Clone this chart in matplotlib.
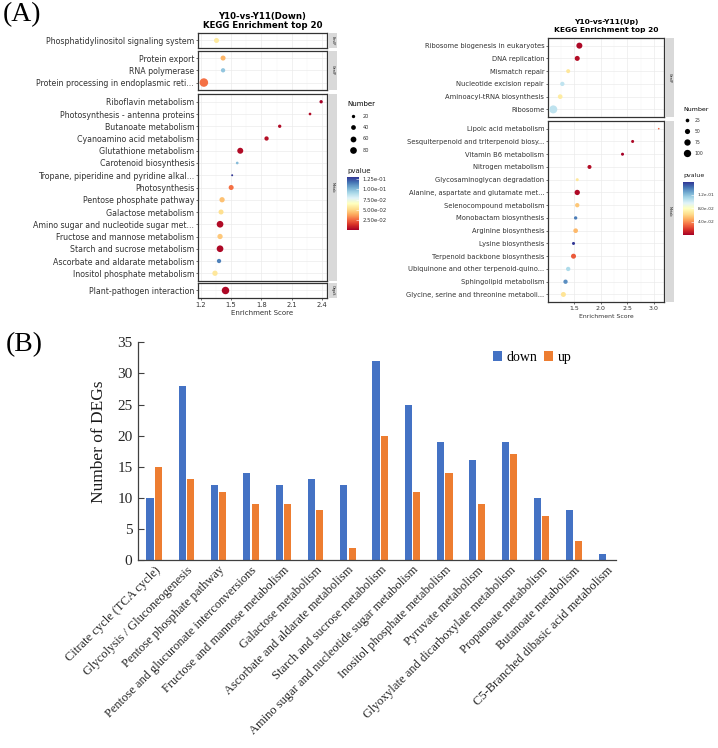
import matplotlib
matplotlib.use('Agg')
import matplotlib.pyplot as plt
from matplotlib.lines import Line2D
from matplotlib.colors import Normalize
from matplotlib.cm import ScalarMappable
from matplotlib.ticker import MultipleLocator
import numpy as np

# ---------------- data: KEGG top 20 (Down) ----------------
down_terms = ["Phosphatidylinositol signaling system",
              "Protein export", "RNA polymerase", "Protein processing in endoplasmic reti...",
              "Riboflavin metabolism", "Photosynthesis - antenna proteins", "Butanoate metabolism",
              "Cyanoamino acid metabolism", "Glutathione metabolism", "Carotenoid biosynthesis",
              "Tropane, piperidine and pyridine alkal...", "Photosynthesis", "Pentose phosphate pathway",
              "Galactose metabolism", "Amino sugar and nucleotide sugar met...",
              "Fructose and mannose metabolism", "Starch and sucrose metabolism",
              "Ascorbate and aldarate metabolism", "Inositol phosphate metabolism",
              "Plant-pathogen interaction"]
down_class = ["EnvIP"] + ["GenIP"] * 3 + ["Metab"] * 15 + ["OrgaS"]
down_score = [1.35, 1.42, 1.42, 1.23, 2.39, 2.28, 1.98, 1.85, 1.59, 1.56, 1.51, 1.50,
              1.41, 1.40, 1.39, 1.39, 1.39, 1.38, 1.34, 1.44]
down_number = [45, 45, 33, 130, 20, 13, 20, 33, 64, 13, 7, 45, 50, 45, 80, 50, 80, 33, 50, 100]
down_pvalue = [0.057, 0.042, 0.097, 0.028, 0.0015, 0.005, 0.005, 0.006, 0.005, 0.100, 0.130,
               0.028, 0.045, 0.053, 0.005, 0.047, 0.004, 0.114, 0.056, 0.004]

# ---------------- data: KEGG top 20 (Up) ----------------
up_terms = ["Ribosome biogenesis in eukaryotes", "DNA replication", "Mismatch repair",
            "Nucleotide excision repair", "Aminoacyl-tRNA biosynthesis", "Ribosome",
            "Lipoic acid metabolism", "Sesquiterpenoid and triterpenoid biosy...",
            "Vitamin B6 metabolism", "Nitrogen metabolism", "Glycosaminoglycan degradation",
            "Alanine, aspartate and glutamate met...", "Selenocompound metabolism",
            "Monobactam biosynthesis", "Arginine biosynthesis", "Lysine biosynthesis",
            "Terpenoid backbone biosynthesis", "Ubiquinone and other terpenoid-quino...",
            "Sphingolipid metabolism", "Glycine, serine and threonine metaboli..."]
up_class = ["GenIP"] * 6 + ["Metab"] * 14
up_score = [1.60, 1.56, 1.39, 1.28, 1.24, 1.11, 3.09, 2.60, 2.41, 1.79, 1.56, 1.56, 1.56,
            1.53, 1.53, 1.49, 1.49, 1.39, 1.34, 1.30]
up_number = [68, 47, 30, 35, 41, 120, 5, 17, 17, 30, 17, 53, 35, 21, 41, 17, 47, 35, 35, 47]
up_pvalue = [0.004, 0.006, 0.068, 0.105, 0.070, 0.105, 0.030, 0.004, 0.0015, 0.006, 0.068,
             0.005, 0.056, 0.140, 0.052, 0.158, 0.028, 0.110, 0.135, 0.066]

# ---------------- data: bar chart (B) ----------------
bar_categories = ["Citrate cycle (TCA cycle)", "Glycolysis / Gluconeogenesis",
                  "Pentose phosphate pathway", "Pentose and glucuronate interconversions",
                  "Fructose and mannose metabolism", "Galactose metabolism",
                  "Ascorbate and aldarate metabolism", "Starch and sucrose metabolism",
                  "Amino sugar and nucleotide sugar metabolism", "Inositol phosphate metabolism",
                  "Pyruvate metabolism", "Glyoxylate and dicarboxylate metabolism",
                  "Propanoate metabolism", "Butanoate metabolism",
                  "C5-Branched dibasic acid metabolism"]
bar_down = [10, 28, 12, 14, 12, 13, 12, 32, 25, 19, 16, 19, 10, 8, 1]
bar_up = [15, 13, 11, 9, 9, 8, 2, 20, 11, 14, 9, 17, 7, 3, 0]

# ---------------- figure ----------------
W, H = 718, 748
fig = plt.figure(figsize=(W / 100, H / 100), dpi=100)
fig.patch.set_facecolor('white')


def box(x0, y0, x1, y1):
    return [x0 / W, 1 - y1 / H, (x1 - x0) / W, (y1 - y0) / H]


cmap = plt.get_cmap('RdYlBu')
TXT = '#333333'
SANS = 'DejaVu Sans'
SERIF = 'Liberation Serif'


def facet_panel(terms, classes, score, number, pvalue, x0, x1, top, d, gaps,
                xstep, size_k, lab_fs, tick_fs):
    order = []
    for c in classes:
        if c not in order:
            order.append(c)
    norm = Normalize(min(pvalue), max(pvalue))
    lo, hi = min(score), max(score)
    pad = 0.05 * (hi - lo)
    y = top
    for gi, g in enumerate(order):
        idx = [i for i, c in enumerate(classes) if c == g]
        n = len(idx)
        h = (n + 0.2) * d
        ax = fig.add_axes(box(x0, y, x1, y + h))
        ypos = np.arange(n)[::-1]
        ax.scatter([score[i] for i in idx], ypos, s=[number[i] * size_k for i in idx],
                   c=[pvalue[i] for i in idx], cmap=cmap, norm=norm, zorder=3, linewidths=0)
        ax.set_ylim(-0.6, n - 0.4)
        ax.set_xlim(lo - pad, hi + pad)
        ax.set_yticks(ypos)
        ax.set_yticklabels([terms[i] for i in idx], fontsize=lab_fs, color=TXT, family=SANS)
        ax.xaxis.set_major_locator(MultipleLocator(xstep))
        ax.xaxis.set_minor_locator(MultipleLocator(xstep / 2))
        ax.grid(True, which='major', color='#EBEBEB', lw=0.5)
        ax.grid(True, which='minor', axis='x', color='#F3F3F3', lw=0.35)
        ax.set_axisbelow(True)
        ax.tick_params(axis='y', length=1.5, width=0.5, pad=1.2, color=TXT)
        ax.tick_params(axis='x', which='minor', length=0)
        last = gi == len(order) - 1
        if last:
            ax.tick_params(axis='x', which='major', length=1.5, width=0.5, pad=1.2,
                           labelsize=tick_fs, labelcolor=TXT, color=TXT)
        else:
            ax.tick_params(axis='x', which='major', length=0, labelbottom=False)
        for sp in ax.spines.values():
            sp.set_color('#333333')
            sp.set_linewidth(0.9)
        sax = fig.add_axes(box(x1 + 1, y, x1 + 10, y + h))
        sax.set_facecolor('#D9D9D9')
        sax.set_xticks([])
        sax.set_yticks([])
        for sp in sax.spines.values():
            sp.set_visible(False)
        sax.text(0.5, 0.5, g, rotation=-90, fontsize=2.4, ha='center', va='center',
                 color='#1A1A1A', transform=sax.transAxes)
        if gi < len(gaps):
            y += h + gaps[gi]
    return norm


# ---- left panel (Down)
norm_d = facet_panel(down_terms, down_class, down_score, down_number, down_pvalue,
                     198, 327, 33, 12.25, [3, 4.5, 2.5], 0.3, 0.29, 5.65, 4.9)
fig.text(262.5 / W, 1 - 16 / H, 'Y10-vs-Y11(Down)', ha='center', va='center',
         fontsize=6.2, fontweight='bold', family=SANS)
fig.text(262.5 / W, 1 - 25 / H, 'KEGG Enrichment top 20', ha='center', va='center',
         fontsize=6.2, fontweight='bold', family=SANS)
fig.text(262.5 / W, 1 - 313 / H, 'Enrichment Score', ha='center', va='center',
         fontsize=5.0, color=TXT, family=SANS)

# ---- right panel (Up)
norm_u = facet_panel(up_terms, up_class, up_score, up_number, up_pvalue,
                     548, 664, 38, 12.75, [4], 0.5, 0.277, 4.9, 4.5)
fig.text(606 / W, 1 - 22 / H, 'Y10-vs-Y11(Up)', ha='center', va='center',
         fontsize=5.4, fontweight='bold', family=SANS)
fig.text(606 / W, 1 - 30 / H, 'KEGG Enrichment top 20', ha='center', va='center',
         fontsize=5.4, fontweight='bold', family=SANS)
fig.text(606 / W, 1 - 317 / H, 'Enrichment Score', ha='center', va='center',
         fontsize=4.4, color=TXT, family=SANS)


def size_legend(values, k, x, y, title_fs, fs, spacing, hlen, hpad):
    handles = [Line2D([], [], marker='o', ls='', color='black', markeredgewidth=0,
                      markersize=np.sqrt(v * k)) for v in values]
    leg = fig.legend(handles, [str(v) for v in values], title='Number', loc='upper left',
                     bbox_to_anchor=(x / W, 1 - y / H), frameon=False, fontsize=fs,
                     title_fontsize=title_fs, alignment='left', handlelength=hlen,
                     handletextpad=hpad, labelspacing=spacing, borderpad=0, borderaxespad=0)
    for t in leg.get_texts():
        t.set_color(TXT)


def pvalue_bar(norm, ticks, fmt, x0, y0, x1, y1, title_y, fs, title_fs):
    cax = fig.add_axes(box(x0, y0, x1, y1))
    cb = fig.colorbar(ScalarMappable(norm=norm, cmap=cmap), cax=cax)
    cb.outline.set_visible(False)
    cb.set_ticks(ticks)
    cb.set_ticklabels([fmt % t for t in ticks])
    cb.ax.tick_params(direction='in', color='white', length=2.2, width=0.4,
                      labelsize=fs, pad=2.5, labelcolor=TXT)
    fig.text(x0 / W, 1 - title_y / H, 'pvalue', ha='left', va='center',
             fontsize=title_fs, color='#1A1A1A', family=SANS)


size_legend([20, 40, 60, 80], 0.29, 347, 101, 5.0, 3.6, 1.3, 2.4, 0.8)
pvalue_bar(norm_d, [0.025, 0.05, 0.075, 0.1, 0.125], '%.2e', 347, 177, 359, 230, 171, 3.9, 5.0)
size_legend([25, 50, 75, 100], 0.277, 683, 107, 4.5, 3.3, 1.3, 1.75, 0.85)
pvalue_bar(norm_u, [0.04, 0.08, 0.12], '%.1e', 683, 182, 694, 235, 176, 3.2, 4.5)

# ---------------- bar chart (B) ----------------
axb = fig.add_axes(box(138, 342.3, 616, 560))
xb = np.arange(len(bar_categories))
axb.bar(xb - 0.13, bar_down, width=0.22, color='#4472C4', label='down')
axb.bar(xb + 0.13, bar_up, width=0.22, color='#ED7D31', label='up')
axb.set_xlim(-0.5, 14.3)
axb.set_ylim(0, 35)
axb.set_yticks(range(0, 36, 5))
axb.set_yticklabels([str(v) for v in range(0, 36, 5)], family=SERIF, fontsize=11,
                    color='#262626')
axb.set_xticks(xb)
axb.set_xticklabels(bar_categories, rotation=45, ha='right', va='top',
                    rotation_mode='anchor', family=SERIF, fontsize=9, color='#262626')
axb.tick_params(axis='y', direction='in', length=4, width=0.8, pad=4, color='#404040')
axb.tick_params(axis='x', length=0, pad=3)
for s in ['top', 'right']:
    axb.spines[s].set_visible(False)
for s in ['left', 'bottom']:
    axb.spines[s].set_color('#404040')
    axb.spines[s].set_linewidth(0.9)
axb.legend(ncol=2, loc='center', bbox_to_anchor=(532 / W, 1 - 357.5 / H),
           bbox_transform=fig.transFigure, frameon=False,
           prop={'family': SERIF, 'size': 10}, handlelength=0.65, handleheight=0.7,
           handletextpad=0.35, columnspacing=0.45, borderpad=0)
fig.text(99 / W, 1 - 441.5 / H, 'Number of DEGs', rotation=90, ha='center', va='center',
         family=SERIF, fontsize=12.5, color='#1A1A1A')

fig.text(3 / W, 1 - 15 / H, '(A)', ha='left', va='center', family=SERIF, fontsize=20)
fig.text(6 / W, 1 - 345 / H, '(B)', ha='left', va='center', family=SERIF, fontsize=20)

fig.savefig('out.png', dpi=100, facecolor='white')
